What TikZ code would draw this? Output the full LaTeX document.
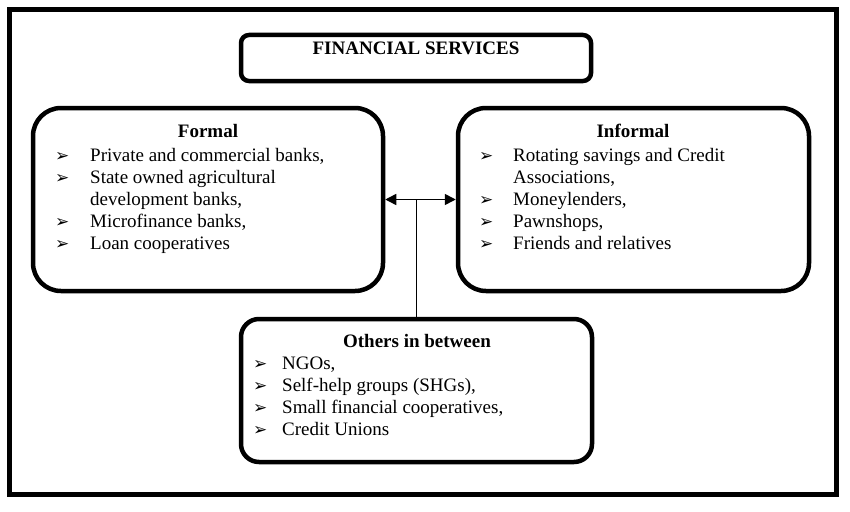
\documentclass[tikz,border=0pt]{standalone}
\usepackage{fontspec}
\setmainfont{Liberation Serif}
\newfontfamily\symfont{DejaVu Sans}
\usetikzlibrary{arrows.meta, positioning}

\newcommand{\itm}{{\symfont\fontsize{17}{17}\selectfont ➢}}

\tikzset{
  panel/.style={draw, line width=4.5pt, rounded corners=#1, inner sep=0pt},
  heading/.style={font=\fontsize{19}{22}\selectfont\bfseries, anchor=base},
  listing/.style={font=\fontsize{19}{22}\selectfont, anchor=north west, inner sep=0pt, align=left},
}

\begin{document}
\begin{tikzpicture}[x=1pt, y=-1pt, >=Stealth]
    \useasboundingbox (0,0) rectangle (850,511);
    \draw[line width=5pt] (9.5,9.5) rectangle (836,494);

    % boxes
    \node[panel=8pt, minimum width=350pt, minimum height=46pt] (fin) at (416,58) {};
    \node[panel=28pt, minimum width=350pt, minimum height=183pt] (formal) at (208,199.5) {};
    \node[panel=28pt, minimum width=351pt, minimum height=183pt] (informal) at (633.5,199.5) {};
    \node[panel=18pt, minimum width=351pt, minimum height=143pt] (others) at (416.5,390.5) {};

    % texts
    \node[heading] (fintitle) at (416,55) {FINANCIAL SERVICES};
    \node[heading] (formaltitle) at (208,137) {Formal};
    \node[heading] (informaltitle) at (633,137) {Informal};
    \node[heading] (otherstitle) at (417,347) {Others in between};

    \node[listing] (formallist) at (55,146) {%
      \begin{tabular}{@{}p{35pt}@{}l@{}}
        \itm & Private and commercial banks,\\
        \itm & State owned agricultural\\
             & development banks,\\
        \itm & Microfinance banks,\\
        \itm & Loan cooperatives
      \end{tabular}};
    \node[listing] (informallist) at (479,146) {%
      \begin{tabular}{@{}p{34pt}@{}l@{}}
        \itm & Rotating savings and Credit\\
             & Associations,\\
        \itm & Moneylenders,\\
        \itm & Pawnshops,\\
        \itm & Friends and relatives
      \end{tabular}};
    \node[listing] (otherslist) at (253,354) {%
      \begin{tabular}{@{}p{29pt}@{}l@{}}
        \itm & NGOs,\\
        \itm & Self-help groups (SHGs),\\
        \itm & Small financial cooperatives,\\
        \itm & Credit Unions
      \end{tabular}};

    % connectors
    \draw[line width=1.5pt, {Triangle[length=11pt, width=11pt]}-{Triangle[length=11pt, width=11pt]}] (formal.east) -- (informal.west);
    \coordinate (junction) at (others.north |- formal.east);
    \draw[line width=1.2pt] (others.north) -- (junction);
\end{tikzpicture}
\end{document}
